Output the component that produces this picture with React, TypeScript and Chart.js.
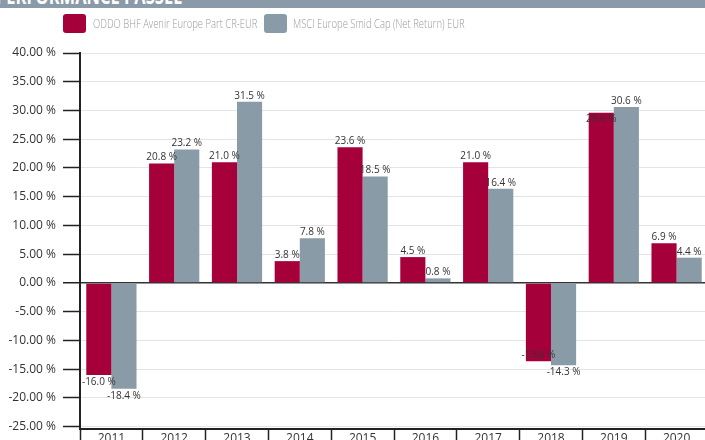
import React, { useEffect, useRef } from "react";
import { Chart, registerables } from "chart.js";

Chart.register(...registerables);

const years = ["2011", "2012", "2013", "2014", "2015", "2016", "2017", "2018", "2019", "2020"];
const fundName = "ODDO BHF Avenir Europe Part CR-EUR";
const indexName = "MSCI Europe Smid Cap (Net Return) EUR";
const fundValues = [-16.0, 20.8, 21.0, 3.8, 23.6, 4.5, 21.0, -13.6, 29.6, 6.9];
const indexValues = [-18.4, 23.2, 31.5, 7.8, 18.5, 0.8, 16.4, -14.3, 30.6, 4.4];
const yTicks = [40, 35, 30, 25, 20, 15, 10, 5, 0, -5, -10, -15, -20, -25];
const bannerTitle = "PERFORMANCE PASSÉE";

const RED = "#a5003a";
const GRAY = "#8a9ba8";
const FONT = "'Open Sans', sans-serif";

const fmt = (v: number) => v.toFixed(1) + " %";

const labelPlugin = {
  id: "barLabels",
  afterDatasetsDraw(chart: any) {
    const ctx = chart.ctx;
    ctx.save();
    ctx.font = `10px ${FONT}`;
    ctx.textAlign = "center";
    ctx.textBaseline = "middle";
    ctx.fillStyle = "#333";
    const m0 = chart.getDatasetMeta(0);
    const m1 = chart.getDatasetMeta(1);
    const h = 10;
    const outside = (el: any, v: number) => (v >= 0 ? el.y - 6 : el.y + 7);
    for (let i = 0; i < years.length; i++) {
      const gEl = m1.data[i];
      const rEl = m0.data[i];
      const v1 = indexValues[i];
      const v0 = fundValues[i];
      const gy = outside(gEl, v1);
      let ry = outside(rEl, v0);
      const gw = ctx.measureText(fmt(v1)).width;
      const rw = ctx.measureText(fmt(v0)).width;
      const ox = Math.abs(rEl.x - gEl.x) < (rw + gw) / 2;
      const oy = Math.abs(ry - gy) < h;
      if (ox && oy) ry = v0 >= 0 ? rEl.y + 6 : rEl.y - 6;
      ctx.fillText(fmt(v0), rEl.x, ry);
      ctx.fillText(fmt(v1), gEl.x, gy);
    }
    ctx.restore();
  },
};

export default function App() {
  const ref = useRef<HTMLCanvasElement | null>(null);

  useEffect(() => {
    if (!ref.current) return;
    const chart = new Chart(ref.current, {
      type: "bar",
      data: {
        labels: years,
        datasets: [
          { label: fundName, data: fundValues, backgroundColor: RED, borderWidth: 0, barPercentage: 1, categoryPercentage: 0.8 },
          { label: indexName, data: indexValues, backgroundColor: GRAY, borderWidth: 0, barPercentage: 1, categoryPercentage: 0.8 },
        ],
      },
      options: {
        animation: false,
        responsive: false,
        devicePixelRatio: 1,
        layout: { padding: { top: 53, left: 0, right: 0, bottom: 0 } },
        plugins: { legend: { display: false }, tooltip: { enabled: false } },
        scales: {
          x: {
            offset: true,
            grid: { offset: true, drawOnChartArea: false, tickLength: 15, tickColor: "#222", tickWidth: 1.5 },
            border: { color: "#222", width: 2 },
            ticks: { color: "#333", font: { family: FONT, size: 12 }, padding: -13, maxRotation: 0 },
            afterFit: (s: any) => {
              s.height = 20;
            },
          },
          y: {
            min: -25.4,
            max: 40,
            afterBuildTicks: (s: any) => {
              s.ticks = yTicks.map((v) => ({ value: v }));
            },
            grid: {
              color: (c: any) => (c.tick && c.tick.value === 0 ? "#333" : "#e4e4e4"),
              lineWidth: (c: any) => (c.tick && c.tick.value === 0 ? 1.5 : 1),
              tickColor: "#222",
              tickLength: 17,
              tickWidth: 1.5,
            },
            border: { color: "#222", width: 2 },
            ticks: {
              color: "#333",
              font: { family: FONT, size: 12 },
              padding: 7,
              callback: (v: any) => Number(v).toFixed(2) + " %",
            },
            afterFit: (s: any) => {
              s.width = 80;
            },
          },
        },
      },
      plugins: [labelPlugin],
    });
    return () => chart.destroy();
  }, []);

  const legendText: React.CSSProperties = {
    position: "absolute",
    top: 14,
    height: 19,
    lineHeight: "19px",
    fontFamily: FONT,
    fontSize: 13.5,
    fontWeight: 300,
    color: "#999",
    whiteSpace: "nowrap",
    transform: "scaleX(0.7)",
    transformOrigin: "left center",
  };

  return (
    <div style={{ position: "fixed", top: 0, left: 0, width: 708, height: 449, background: "#fff", overflow: "hidden" }}>
      <canvas ref={ref} width={708} height={449} style={{ position: "absolute", top: 0, left: 0 }} />
      <div style={{ position: "absolute", top: 0, left: 0, width: 708, height: 8, background: "#8a9aa8", overflow: "hidden" }}>
        <span
          style={{
            position: "absolute",
            top: -17,
            left: -4,
            fontFamily: FONT,
            fontWeight: 700,
            fontSize: 22,
            lineHeight: "24px",
            color: "#fff",
            whiteSpace: "nowrap",
            transform: "scaleX(0.75)",
            transformOrigin: "left center",
          }}
        >
          {bannerTitle}
        </span>
      </div>
      <div style={{ position: "absolute", left: 63, top: 14, width: 23, height: 19, borderRadius: 3, background: RED }} />
      <div style={{ ...legendText, left: 93 }}>{fundName}</div>
      <div style={{ position: "absolute", left: 264, top: 14, width: 23, height: 19, borderRadius: 3, background: GRAY }} />
      <div style={{ ...legendText, left: 293 }}>{indexName}</div>
    </div>
  );
}
